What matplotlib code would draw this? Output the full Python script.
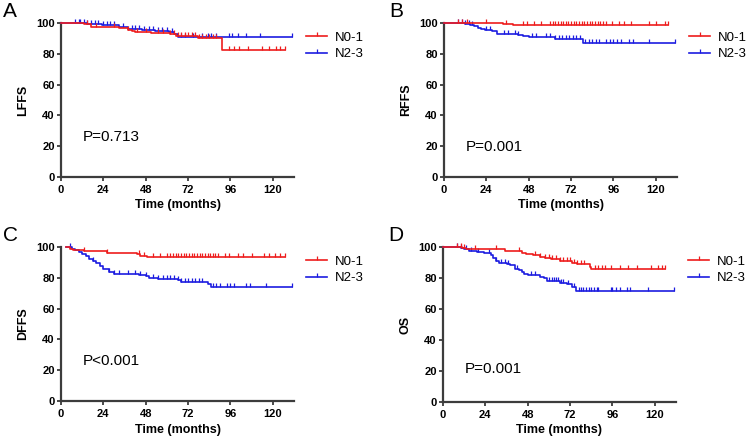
import numpy as np
import matplotlib
matplotlib.use('Agg')
import matplotlib.pyplot as plt
from matplotlib.markers import TICKUP

plt.rcParams['font.family'] = ['Liberation Sans', 'DejaVu Sans']

RED = '#ee1c1c'
BLUE = '#1c1ce0'
AXC = '#3c3c3c'

# ---- A: LFFS ----
a_red_t = [0, 13, 17, 33, 35, 38, 40, 42, 51, 62, 65, 77.5, 91]
a_red_s = [100, 99.1, 97.4, 97, 96.5, 95.5, 94.8, 94.4, 93.3, 92.6, 91.8, 90, 82.5]
a_red_end = 127
a_red_cens = [15, 20, 30, 38, 43, 48, 55, 58, 62, 64, 66, 68, 70, 72, 74, 76, 78, 80,
              82, 84, 86, 88, 95, 98, 101, 106, 114, 118, 122, 124, 127]
a_blue_t = [0, 15, 23, 27, 33, 38, 46, 53, 61, 64, 66]
a_blue_s = [100, 99.5, 99, 98.7, 97.6, 96, 95.5, 94.8, 94, 92.6, 91]
a_blue_end = 131
a_blue_cens = [8, 10, 11, 13, 15, 17, 19, 21, 24, 26, 28, 30, 35, 40, 42, 44, 47, 50, 52,
               55, 57, 60, 63, 68, 70, 75, 80, 83, 85, 88, 95, 97, 100, 105, 113, 131]

# ---- B: RFFS ----
b_red_t = [0, 33.5, 39]
b_red_s = [100, 99.2, 98.5]
b_red_end = 127
b_red_cens = [8, 10, 13, 24, 35, 45, 47, 51, 55, 60, 61.5, 63, 64.5, 66, 67.5, 69, 70.5, 72,
              73.5, 75, 76.5, 78, 79.5, 81, 82.5, 84, 85.5, 87, 88.5, 90, 92, 95, 99, 102,
              106, 116, 120, 125, 127]
b_blue_t = [0, 12, 15, 17, 19, 21, 23, 27, 30, 42, 45, 48, 63, 79]
b_blue_s = [100, 99.5, 99, 98, 97, 96, 95.5, 94.5, 93, 92.5, 91.5, 90.6, 89.7, 87.3]
b_blue_end = 131
b_blue_cens = [8, 10, 12, 14, 16, 24, 26, 34, 36, 40, 42, 50, 52, 58, 60, 63, 65, 67, 69, 71,
               73, 75, 77, 80, 82, 84, 86, 88, 92, 94, 96, 98, 100, 105, 107, 116, 131]

# ---- C: DFFS ----
c_red_t = [3, 5, 7, 13, 26, 43, 45, 49]
c_red_s = [100, 99, 98, 97.3, 96, 95.2, 94.4, 93.6]
c_red_end = 127
c_red_cens = [13, 26, 44, 47, 52, 56, 60, 62, 63.5, 65, 66.5, 68, 69.5, 71, 72.5, 74, 75.5,
              77, 78.5, 80, 81.5, 83, 84.5, 86, 87.5, 89, 93, 95, 100, 103, 108, 115, 118,
              121, 124, 127]
c_blue_t = [3, 6, 8, 10, 12, 14, 16, 18, 20, 22, 24, 27, 30, 44, 48, 50, 55, 66, 68, 83, 85]
c_blue_s = [100, 99, 98, 96.5, 95.5, 94, 92.5, 91, 89.5, 87.5, 85.5, 84, 82.5, 82, 81, 80,
            79.5, 78.5, 77.5, 76, 74]
c_blue_end = 131
c_blue_cens = [5, 18, 27, 30, 33, 38, 42, 45, 48, 52, 55, 58, 60, 62, 64, 66, 68, 70, 72, 74,
               76, 78, 80, 86, 88, 90, 94, 96, 98, 105, 107, 116, 131]

# ---- D: OS ----
d_red_t = [0, 11, 13, 35, 45, 47, 51, 55, 58, 61, 66, 73, 76, 83, 84]
d_red_s = [100, 99.3, 98.5, 97.6, 96.3, 95.5, 94.8, 93.7, 92.6, 92, 91.1, 89.8, 89, 87.2, 85.5]
d_red_end = 126
d_red_cens = [8, 10, 12, 18, 30, 43, 52, 55, 58, 60, 62, 64, 66, 68, 70, 72, 74, 76, 78, 80,
              86, 88, 90, 92, 95, 100, 105, 110, 118, 122, 124, 126]
d_blue_t = [0, 10, 12, 15, 19, 23, 27, 28.5, 30, 32, 36, 38, 41, 43, 44.5, 46, 48, 55, 57,
            59, 66, 70, 73, 75.5]
d_blue_s = [100, 99.3, 98.5, 97.6, 96.8, 95.9, 94.8, 92.6, 91.1, 89.8, 89, 88.1, 86.1, 85,
            84, 82.9, 81.8, 80.7, 79.7, 78.1, 76.8, 76, 74.2, 71.8]
d_blue_end = 131
d_blue_cens = [8, 10, 13, 16, 20, 26, 30, 33, 35, 37, 42, 50, 52, 60, 62, 63, 64, 65, 67, 68,
               71, 74, 77, 78, 79.5, 81, 82.5, 84, 85.5, 87, 88, 95, 96, 98, 100, 104, 106,
               116, 131]

panels = [
    ('A', 'LFFS', 'P=0.713', 26, (a_red_t, a_red_s, a_red_end, a_red_cens),
     (a_blue_t, a_blue_s, a_blue_end, a_blue_cens)),
    ('B', 'RFFS', 'P=0.001', 19.5, (b_red_t, b_red_s, b_red_end, b_red_cens),
     (b_blue_t, b_blue_s, b_blue_end, b_blue_cens)),
    ('C', 'DFFS', 'P<0.001', 26, (c_red_t, c_red_s, c_red_end, c_red_cens),
     (c_blue_t, c_blue_s, c_blue_end, c_blue_cens)),
    ('D', 'OS', 'P=0.001', 21.5, (d_red_t, d_red_s, d_red_end, d_red_cens),
     (d_blue_t, d_blue_s, d_blue_end, d_blue_cens)),
]

W, H = 749, 443
fig = plt.figure(figsize=(W / 100, H / 100), dpi=100)

# axes boxes in pixels: left, y of 0, y of 100
boxes = [(61, 177, 23), (444, 177, 23), (61, 401, 247), (443, 402, 247)]
letters_xy = [(3, 2), (389, 2), (3, 226), (388, 226)]
axw = 233


def surv_at(t, s, x):
    idx = np.searchsorted(t, x, side='right') - 1
    return np.array(s)[np.clip(idx, 0, len(s) - 1)]


for (letter, ylab, ptxt, py, red, blue), (l, y0, y1), (lx, ly) in zip(panels, boxes, letters_xy):
    ax = fig.add_axes([l / W, 1 - y0 / H, axw / W, (y0 - y1) / H])
    handles = []
    for (t, s, end, cens), col, name in [(blue, BLUE, 'N2-3'), (red, RED, 'N0-1')]:
        tt = list(t) + [end]
        ss = list(s) + [s[-1]]
        ax.step(tt, ss, where='post', color=col, lw=1.2, clip_on=False, zorder=3)
        cy = surv_at(t, s, cens)
        ax.plot(cens, cy, ls='none', marker=TICKUP, ms=2.8, mew=0.9, color=col,
                clip_on=False, zorder=3)
        h, = ax.plot([], [], color=col, lw=1.2, marker=TICKUP, ms=3, mew=0.9, label=name)
        handles.append(h)
    ax.set_xlim(0, 132)
    ax.set_ylim(0, 100)
    ax.set_xticks([0, 24, 48, 72, 96, 120])
    ax.set_yticks([0, 20, 40, 60, 80, 100])
    for sp in ['top', 'right']:
        ax.spines[sp].set_visible(False)
    for sp in ['left', 'bottom']:
        ax.spines[sp].set_color(AXC)
        ax.spines[sp].set_linewidth(1.6)
    ax.tick_params(direction='out', length=3, width=1.3, color=AXC, pad=1.5,
                   labelsize=8, labelcolor='black')
    ax.tick_params(axis='x', pad=3)
    for lab in ax.get_xticklabels() + ax.get_yticklabels():
        lab.set_fontweight('bold')
    ax.set_xlabel('Time (months)', fontsize=9, fontweight='bold', labelpad=3)
    ax.set_ylabel(ylab, fontsize=9, fontweight='bold', labelpad=5)
    ax.text(12.5, py, ptxt, fontsize=11, va='center', ha='left')
    ax.legend(handles=handles[::-1], loc='upper left', bbox_to_anchor=(1.03, 0.98),
              frameon=False, fontsize=9.5, handlelength=1.6, handletextpad=0.6,
              labelspacing=0.35, borderaxespad=0)
    fig.text(lx / W, 1 - ly / H, letter, fontsize=15, va='top', ha='left')

fig.savefig('out.png', dpi=100)
